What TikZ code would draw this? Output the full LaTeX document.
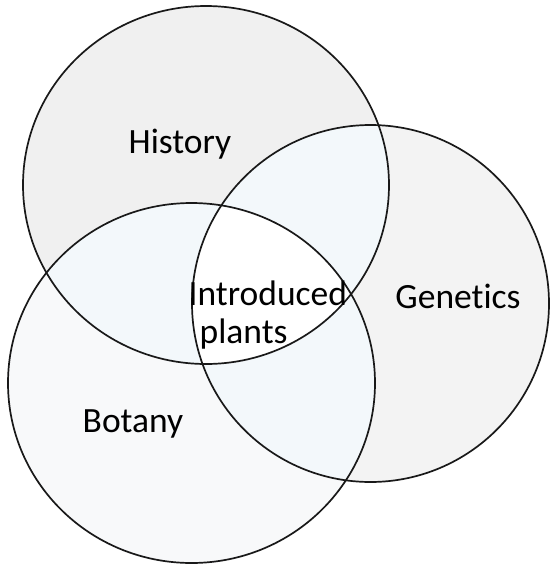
\documentclass[tikz,border=0pt]{standalone}
\usepackage{fontspec}
\setmainfont[Ligatures=NoCommon]{Carlito}
\definecolor{histc}{HTML}{F0F0F0}
\definecolor{genc}{HTML}{F3F3F3}
\definecolor{botc}{HTML}{F8F9FA}
\definecolor{ovc}{HTML}{F3F8FB}
\begin{document}
\begin{tikzpicture}[x=1pt,y=-1pt,
  lbl/.style={inner sep=0pt,font=\fontsize{35.5}{38}\selectfont},
  ring/.style={draw=black!90,line width=1.7pt}]
\useasboundingbox (0,0) rectangle (550,566);
\fill[white] (0,0) rectangle (550,566);
\coordinate (H) at (206,185);
\coordinate (G) at (370.5,303.5);
\coordinate (B) at (191.5,383);
\def\Hpath{(H) ellipse [x radius=183, y radius=179]}
\def\Gpath{(G) ellipse [x radius=178.5, y radius=178.5]}
\def\Bpath{(B) ellipse [x radius=183.5, y radius=180]}
\fill[histc] \Hpath;
\fill[genc] \Gpath;
\fill[botc] \Bpath;
\begin{scope}
  \clip \Hpath;
  \fill[ovc] \Gpath;
  \fill[ovc] \Bpath;
\end{scope}
\begin{scope}
  \clip \Gpath;
  \fill[ovc] \Bpath;
\end{scope}
\begin{scope}
  \clip \Hpath;
  \clip \Gpath;
  \fill[white] \Bpath;
\end{scope}
\draw[ring] \Hpath;
\draw[ring] \Gpath;
\draw[ring] \Bpath;
\node[lbl,anchor=base] (hist) at (180,153) {History};
\node[lbl,anchor=base] (gen) at (458,308) {Genetics};
\node[lbl,anchor=base] (bot) at (133,432) {Botany};
\node[lbl,anchor=base west] (intro) at (188.5,305) {Introduced};
\node[lbl,anchor=base west] (plants) at (199.5,343) {plants};
\end{tikzpicture}
\end{document}
